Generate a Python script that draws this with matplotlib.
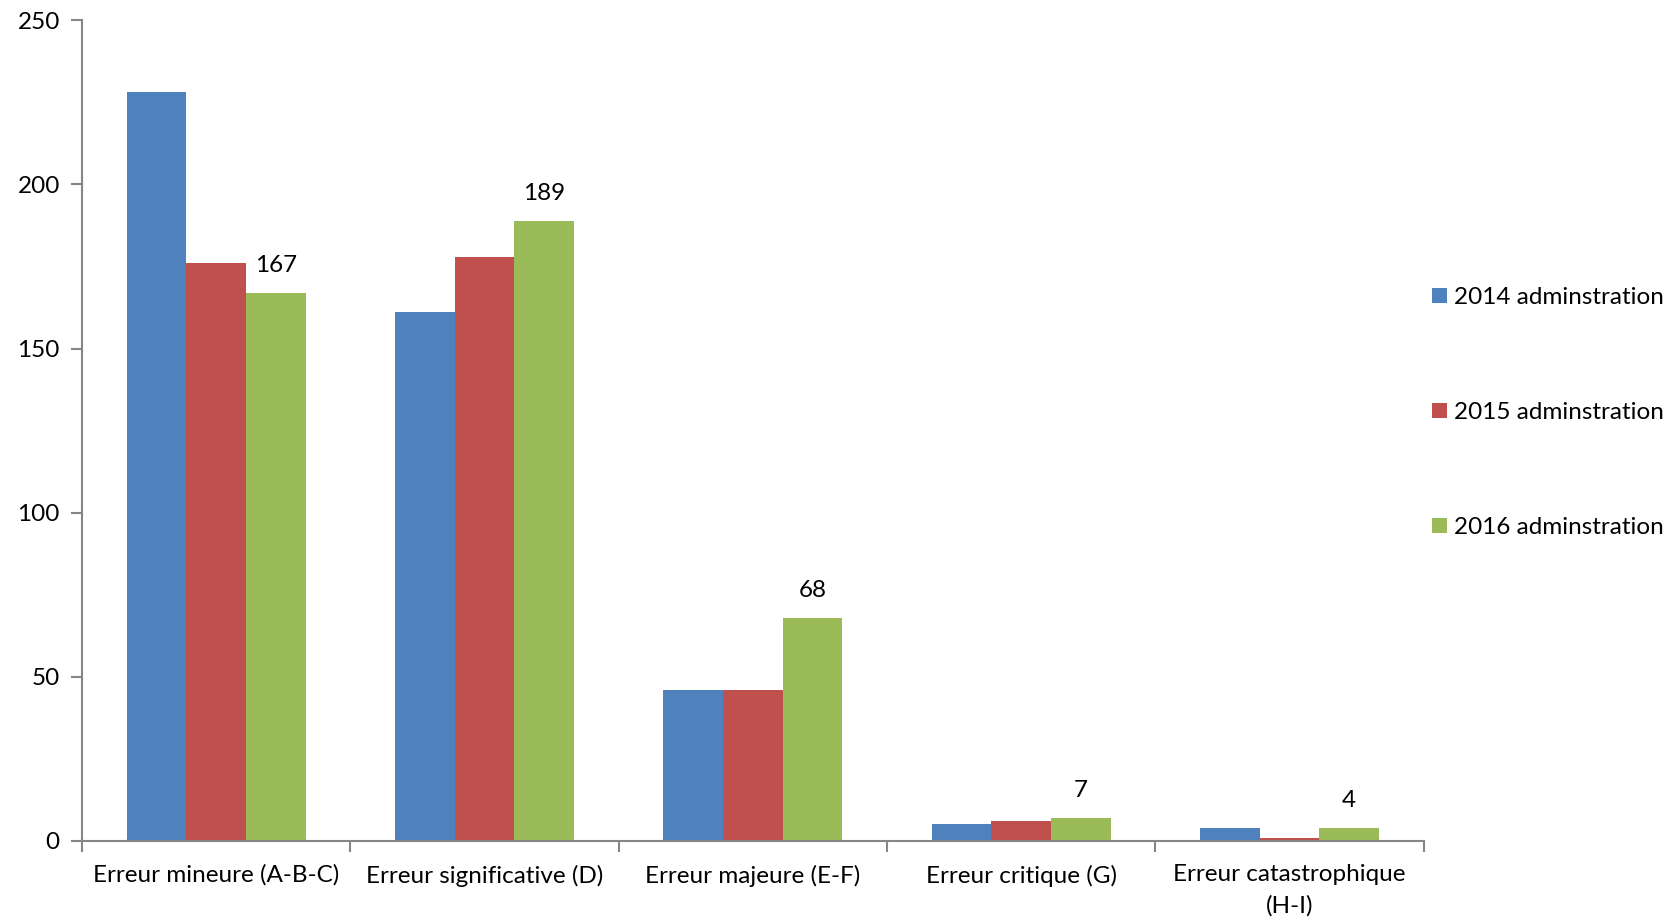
import numpy as np
import matplotlib
matplotlib.use('Agg')
import matplotlib.pyplot as plt

plt.rcParams['font.family'] = ['Lato', 'DejaVu Sans']

# catégories et séries
categories = ['Erreur mineure (A-B-C)', 'Erreur significative (D)', 'Erreur majeure (E-F)',
              'Erreur critique (G)', 'Erreur catastrophique\n(H-I)']
series_names = ['2014 adminstration', '2015 adminstration', '2016 adminstration']
v2014 = [228, 161, 46, 5, 4]
v2015 = [176, 178, 46, 6, 1]
v2016 = [167, 189, 68, 7, 4]
colors = ['#4F81BD', '#C0504D', '#9BBB59']

fs = 17.5
fig = plt.figure(figsize=(16.73, 9.22), dpi=100)
ax = fig.add_axes([0.049, 0.088, 0.802, 0.890])

x = np.arange(len(categories))
w = 0.2225
for i, (vals, name) in enumerate(zip([v2014, v2015, v2016], series_names)):
    bars = ax.bar(x + (i - 1) * w, vals, width=w, color=colors[i], label=name)
    if i == 2:
        for b, v in zip(bars, vals):
            ax.annotate(str(v), (b.get_x() + b.get_width() / 2, v), xytext=(0, 12),
                        textcoords='offset points', ha='center', va='bottom', fontsize=fs)

ax.set_xlim(-0.5, len(categories) - 0.5)
ax.set_ylim(0, 250)
ax.set_yticks([0, 50, 100, 150, 200, 250])
ax.set_xticks(x)
ax.set_xticklabels(categories, fontsize=fs, linespacing=1.55)
ax.set_xticks(np.arange(len(categories) + 1) - 0.5, minor=True)
ax.tick_params(axis='x', which='major', length=0, pad=17)
ax.tick_params(axis='x', which='minor', length=8, width=1.5, color='#868686')
ax.tick_params(axis='y', length=8, width=1.5, color='#868686', labelsize=fs, pad=8)

for s in ['top', 'right']:
    ax.spines[s].set_visible(False)
for s in ['left', 'bottom']:
    ax.spines[s].set_color('#868686')
    ax.spines[s].set_linewidth(1.5)

ax.legend(loc='center left', bbox_to_anchor=(0.99, 0.522), frameon=False, fontsize=fs,
          handlelength=0.6, handleheight=0.6, handletextpad=0.3, labelspacing=3.87)

fig.savefig('out.png', dpi=100)
